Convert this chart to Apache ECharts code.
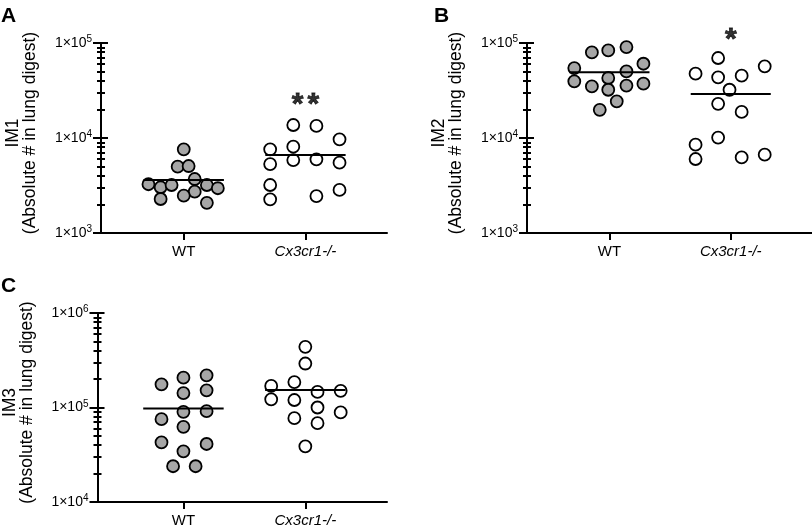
<!DOCTYPE html>
<html>
<head>
<meta charset="utf-8">
<script src="https://cdn.jsdelivr.net/npm/echarts@6/dist/echarts.min.js"></script>
<style>
html,body{margin:0;padding:0;background:#fff;}
#chart{width:812px;height:528px;}
</style>
</head>
<body>
<div id="chart"></div>
<script>
// ---------------- data ----------------
const categories = ['WT', 'Cx3cr1-/-'];
const panelLetters = ['A', 'B', 'C'];
const panelNames = ['IM1', 'IM2', 'IM3'];
const yTitle = '(Absolute # in lung digest)';
const yMins = [1e3, 1e3, 1e4];
const yMaxs = [1e5, 1e5, 1e6];

// IM1
const im1WT = [7600, 4990, 5070, 3700, 3260, 3030, 3200, 3200, 2960, 2720, 2470, 2280, 2080];
const im1WTx = [1.00, 0.95, 1.04, 1.09, 0.71, 0.81, 0.90, 1.19, 1.28, 1.09, 1.00, 0.81, 1.19];
const im1KO = [13700, 13400, 9690, 7600, 8100, 5320, 5860, 5970, 5500, 3200, 2840, 2450, 2260];
const im1KOx = [1.90, 2.09, 2.28, 1.71, 1.90, 1.71, 1.90, 2.09, 2.28, 1.71, 2.28, 2.09, 1.71];
const im1Lines = [3610, 6620];

// IM2
const im2WT = [79600, 83600, 90700, 54500, 60500, 50200, 42800, 39500, 34900, 32200, 35600, 37300, 24300, 19800];
const im2WTx = [0.855, 0.99, 1.14, 0.71, 1.28, 1.14, 0.99, 0.71, 0.855, 0.99, 1.14, 1.28, 1.06, 0.92];
const im2KO = [69500, 56800, 47500, 43500, 45300, 32200, 22900, 18800, 10100, 8500, 6010, 6250, 6670];
const im2KOx = [1.896, 2.28, 1.71, 1.896, 2.09, 1.99, 1.896, 2.09, 1.896, 1.71, 1.71, 2.09, 2.28];
const im2Lines = [49100, 29000];

// IM3
const im3WT = [176000, 207000, 219000, 142000, 152000, 90000, 91400, 75300, 62500, 42800, 41100, 34400, 23900, 23900];
const im3WTx = [0.82, 1.00, 1.19, 1.00, 1.19, 1.00, 1.19, 0.82, 1.00, 0.82, 1.19, 1.00, 0.915, 1.10];
const im3KO = [439000, 292000, 169000, 186000, 146000, 150000, 122000, 120000, 100000, 88600, 77100, 68300, 38800];
const im3KOx = [2.00, 2.00, 1.72, 1.91, 2.10, 2.29, 1.72, 1.91, 2.10, 2.29, 1.91, 2.10, 2.00];
const im3Lines = [97500, 153000];

// significance marks (number of stars, value position above Cx3cr1-/- group)
const sigStars = [2, 1, 0];
const sigValue = [27000, 132000, 0];

// ---------------- layout / styles ----------------
const FONT = "'Liberation Sans', Arial, Helvetica, sans-serif";
const grids = [
  {left: 101, top: 43, width: 286, height: 190},
  {left: 527, top: 43, width: 285, height: 190},
  {left: 97,  top: 313, width: 290, height: 190}
];
const xMins = [0.32, 0.32, 0.295];
const xMax = 2.67;
const lineHalf = 0.33;

const panels = [
  {wt: im1WT, wtx: im1WTx, ko: im1KO, kox: im1KOx, lines: im1Lines},
  {wt: im2WT, wtx: im2WTx, ko: im2KO, kox: im2KOx, lines: im2Lines},
  {wt: im3WT, wtx: im3WTx, ko: im3KO, kox: im3KOx, lines: im3Lines}
];

function minorValues(min, max) {
  const out = [];
  for (let d = min; d < max; d *= 10) {
    for (let k = 2; k <= 9; k++) out.push(d * k);
  }
  return out;
}
function majorValues(min, max) {
  const out = [];
  for (let d = min; d <= max * 1.0001; d *= 10) out.push(d);
  return out;
}

const option = {
  animation: false,
  backgroundColor: '#fff',
  textStyle: {fontFamily: FONT},
  title: [],
  grid: grids,
  xAxis: [],
  yAxis: [],
  series: []
};

const letterPos = [{left: 1, top: 6}, {left: 434, top: 6}, {left: 1, top: 276}];

panels.forEach((p, i) => {
  option.title.push({
    text: panelLetters[i], left: letterPos[i].left, top: letterPos[i].top, padding: 0,
    textStyle: {fontFamily: FONT, fontSize: 21, fontWeight: 'bold', color: '#000'}
  });

  option.xAxis.push({
    gridIndex: i, type: 'value', min: xMins[i], max: xMax,
    splitLine: {show: false},
    axisLine: {show: true, lineStyle: {color: '#000', width: 2}},
    axisTick: {show: true, customValues: [1, 2], length: 7, lineStyle: {color: '#000', width: 2}},
    axisLabel: {
      show: true, customValues: [1, 2], margin: 11,
      formatter: v => (Math.round(v) === 1 ? '{n|' + categories[0] + '}' : '{it|' + categories[1] + '}'),
      rich: {
        n: {fontFamily: FONT, fontSize: 15, color: '#000'},
        it: {fontFamily: FONT, fontSize: 15, fontStyle: 'italic', color: '#000'}
      }
    }
  });

  const yBase = {gridIndex: i, type: 'log', logBase: 10, min: yMins[i], max: yMaxs[i], position: 'left', splitLine: {show: false}};
  // main axis with line, labels and name
  option.yAxis.push(Object.assign({}, yBase, {
    axisLine: {show: true, lineStyle: {color: '#000', width: 2}},
    axisTick: {show: false},
    axisLabel: {
      show: true, margin: 9,
      formatter: v => '{b|1×10}{s|' + Math.round(Math.log10(v)) + '}',
      rich: {
        b: {fontFamily: FONT, fontSize: 14, color: '#000', lineHeight: 17},
        s: {fontFamily: FONT, fontSize: 10, color: '#000', verticalAlign: 'top', lineHeight: 10}
      }
    },
    name: panelNames[i] + '\n' + yTitle,
    nameLocation: 'middle', nameGap: 62,
    nameTextStyle: {fontFamily: FONT, fontSize: 17.5, lineHeight: 17, color: '#000', padding: [0, 0, 0, 10]}
  }));
  // major ticks crossing the axis
  option.yAxis.push(Object.assign({}, yBase, {
    offset: -7,
    axisLine: {show: false},
    axisTick: {show: true, customValues: majorValues(yMins[i], yMaxs[i]), length: 15, lineStyle: {color: '#000', width: 2}},
    axisLabel: {show: false}
  }));
  // minor ticks crossing the axis
  option.yAxis.push(Object.assign({}, yBase, {
    offset: -4,
    axisLine: {show: false},
    axisTick: {show: true, customValues: minorValues(yMins[i], yMaxs[i]), length: 8, lineStyle: {color: '#000', width: 2}},
    axisLabel: {show: false}
  }));

  const yi = i * 3;
  option.series.push({
    type: 'scatter', xAxisIndex: i, yAxisIndex: yi, clip: false,
    symbol: 'circle', symbolSize: 12,
    itemStyle: {color: '#a6a6a6', borderColor: '#000', borderWidth: 1.8, opacity: 1},
    data: p.wt.map((v, k) => [p.wtx[k], v]), z: 3
  });
  option.series.push({
    type: 'scatter', xAxisIndex: i, yAxisIndex: yi, clip: false,
    symbol: 'circle', symbolSize: 12,
    itemStyle: {color: '#ffffff', borderColor: '#000', borderWidth: 1.8, opacity: 1},
    data: p.ko.map((v, k) => [p.kox[k], v]), z: 3
  });
  p.lines.forEach((m, c) => {
    option.series.push({
      type: 'line', xAxisIndex: i, yAxisIndex: yi, symbol: 'none', silent: true,
      lineStyle: {color: '#000', width: 2},
      data: [[c + 1 - lineHalf, m], [c + 1 + lineHalf, m]], z: 5
    });
  });
  if (sigStars[i] > 0) {
    option.series.push({
      type: 'scatter', xAxisIndex: i, yAxisIndex: yi, clip: false, silent: true,
      symbol: 'circle', symbolSize: 1,
      itemStyle: {color: 'rgba(0,0,0,0)'},
      label: {show: true, position: 'inside',
        formatter: '{a|*}'.repeat(sigStars[i]),
        rich: {a: {fontFamily: FONT, fontSize: 30, fontWeight: 'bold', color: '#000',
          textBorderColor: '#000', textBorderWidth: 0.8, padding: [0, 2, 0, 2]}},
        offset: [0, 8]},
      data: [[2, sigValue[i]]], z: 6
    });
  }
});

const chart = echarts.init(document.getElementById('chart'), null, {renderer: 'canvas'});
chart.setOption(option);
</script>
</body>
</html>
